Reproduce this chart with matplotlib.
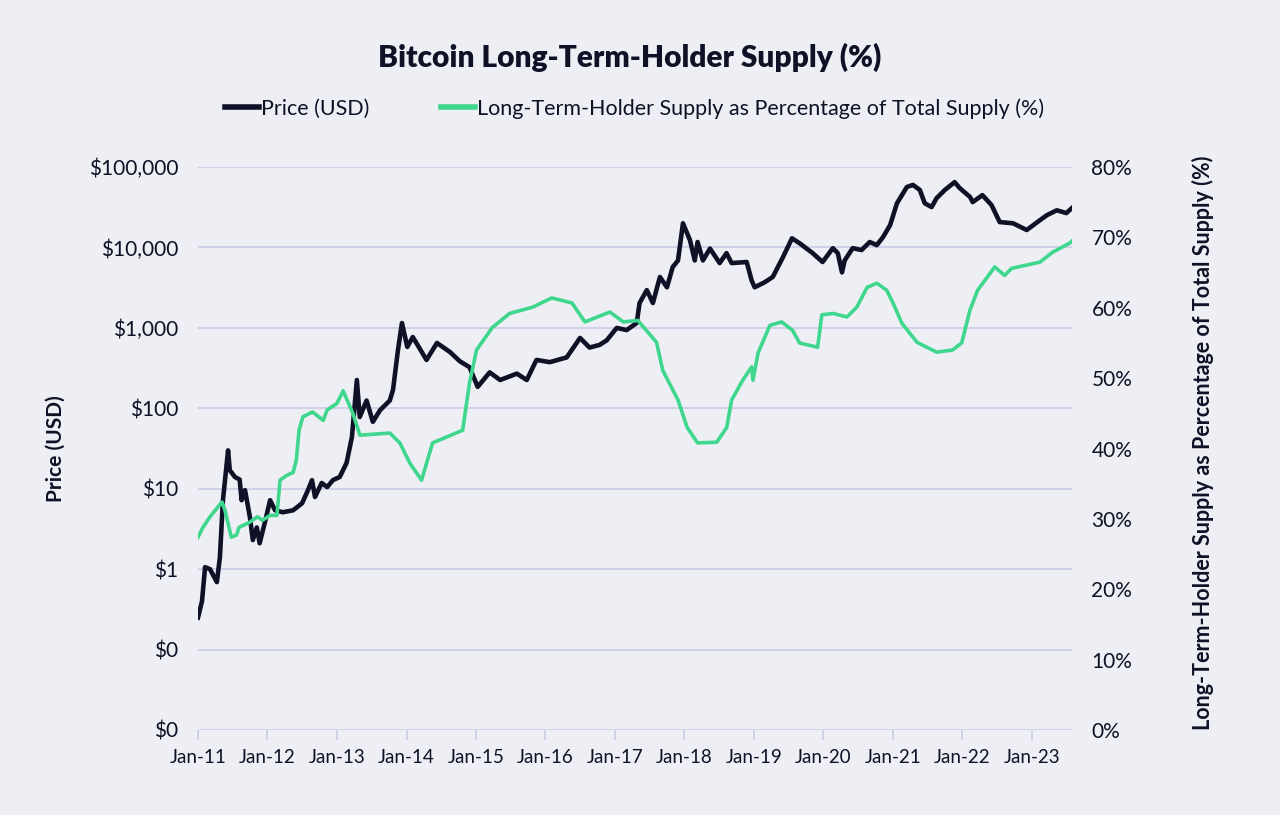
import matplotlib
matplotlib.use("Agg")
import matplotlib.pyplot as plt
import matplotlib.dates as mdates
import matplotlib.ticker as mticker
import pandas as pd

plt.rcParams["font.family"] = ["Lato", "DejaVu Sans"]

# price (USD)
price_dates = [
    "2011-01-01", "2011-01-22", "2011-02-07", "2011-03-05", "2011-04-10", "2011-04-26",
    "2011-05-12", "2011-06-08", "2011-06-17", "2011-07-14", "2011-08-08", "2011-08-18",
    "2011-09-05", "2011-10-01", "2011-10-16", "2011-11-06", "2011-11-21", "2011-12-17",
    "2012-01-15", "2012-02-10", "2012-03-22", "2012-05-15", "2012-07-01", "2012-08-01",
    "2012-08-22", "2012-09-07", "2012-10-12", "2012-11-10", "2012-12-10", "2013-01-15",
    "2013-02-20", "2013-03-20", "2013-04-15", "2013-04-30", "2013-06-05", "2013-07-08",
    "2013-08-15", "2013-10-05", "2013-10-22", "2013-11-17", "2013-12-08", "2014-01-05",
    "2014-02-03", "2014-04-16", "2014-06-10", "2014-08-18", "2014-10-08", "2014-11-28",
    "2015-01-10", "2015-03-14", "2015-05-08", "2015-08-04", "2015-09-25", "2015-11-15",
    "2016-01-24", "2016-04-22", "2016-07-01", "2016-08-20", "2016-10-12", "2016-11-18",
    "2017-01-10", "2017-03-03", "2017-04-25", "2017-05-10", "2017-06-17", "2017-07-19",
    "2017-08-25", "2017-10-01", "2017-10-31", "2017-11-28", "2017-12-24", "2018-01-15",
    "2018-01-30", "2018-02-24", "2018-03-11", "2018-04-08", "2018-05-15", "2018-07-05",
    "2018-08-10", "2018-09-06", "2018-11-24", "2018-12-20", "2019-01-05", "2019-02-27",
    "2019-04-10", "2019-06-03", "2019-07-20", "2019-08-29", "2019-11-06", "2019-12-28",
    "2020-02-20", "2020-03-17", "2020-04-08", "2020-04-22", "2020-06-03", "2020-07-20",
    "2020-09-01", "2020-10-08", "2020-11-10", "2020-12-17", "2021-01-22", "2021-03-15",
    "2021-04-16", "2021-05-22", "2021-06-17", "2021-07-23", "2021-08-18", "2021-10-01",
    "2021-11-21", "2021-12-17", "2022-02-10", "2022-02-24", "2022-04-16", "2022-06-03",
    "2022-07-16", "2022-09-24", "2022-12-05", "2023-02-13", "2023-03-22", "2023-05-12",
    "2023-07-01", "2023-07-31",
]
price_usd = [
    0.25, 0.4, 1.06, 1.0, 0.69, 1.4,
    7.2, 30, 17, 14, 13, 7.2,
    9.6, 4.4, 2.3, 3.3, 2.1, 3.7,
    7.2, 5.4, 5.1, 5.4, 6.6, 9.6,
    12.8, 7.9, 11.8, 10.5, 12.8, 14,
    21, 44, 225, 78, 125, 68,
    95, 125, 170, 530, 1150, 580,
    770, 400, 650, 500, 385, 325,
    185, 280, 225, 270, 225, 400,
    375, 430, 750, 570, 615, 700,
    1000, 940, 1150, 2040, 2950, 2040,
    4300, 3200, 5700, 6900, 20000, 15000,
    12300, 6900, 11700, 6900, 9700, 6400,
    8500, 6400, 6600, 3900, 3200, 3700,
    4300, 7600, 13000, 11300, 8500, 6600,
    9800, 8500, 4900, 6900, 9800, 9300,
    11700, 10700, 13500, 19000, 35500, 56500,
    60000, 52000, 35500, 31800, 41000, 52000,
    65000, 55000, 42500, 36700, 44800, 33700,
    20700, 20000, 16500, 21900, 25300, 29000,
    26800, 31000,
]

# long-term-holder supply share (%)
lth_dates = [
    "2011-01-01", "2011-01-27", "2011-03-05", "2011-05-07", "2011-05-23", "2011-06-25",
    "2011-07-22", "2011-08-05", "2011-09-28", "2011-11-10", "2011-12-05", "2012-01-15",
    "2012-02-20", "2012-03-07", "2012-04-12", "2012-05-15", "2012-06-01", "2012-06-15",
    "2012-07-05", "2012-08-25", "2012-10-20", "2012-11-10", "2012-12-31", "2013-02-02",
    "2013-03-25", "2013-05-01", "2013-10-05", "2013-11-27", "2014-01-19", "2014-03-21",
    "2014-05-18", "2014-10-23", "2014-11-28", "2015-01-04", "2015-03-28", "2015-06-27",
    "2015-10-27", "2016-02-03", "2016-05-19", "2016-07-27", "2016-12-05", "2017-02-13",
    "2017-05-01", "2017-08-07", "2017-09-09", "2017-11-28", "2018-01-15", "2018-03-11",
    "2018-06-20", "2018-08-11", "2018-09-06", "2018-11-03", "2018-12-20", "2018-12-27",
    "2019-01-23", "2019-03-26", "2019-05-27", "2019-07-23", "2019-08-29", "2019-12-02",
    "2019-12-24", "2020-02-20", "2020-05-04", "2020-06-25", "2020-08-18", "2020-10-08",
    "2020-11-29", "2021-01-01", "2021-02-17", "2021-05-07", "2021-08-18", "2021-11-10",
    "2021-12-28", "2022-02-10", "2022-03-22", "2022-06-20", "2022-08-11", "2022-09-16",
    "2023-02-13", "2023-04-20", "2023-07-19", "2023-07-31",
]
lth_pct = [
    27.4, 28.8, 30.3, 32.4, 31.2, 27.4,
    27.7, 28.8, 29.5, 30.3, 29.8, 30.5,
    30.5, 35.5, 36.2, 36.6, 38.4, 42.6,
    44.5, 45.2, 44.0, 45.5, 46.4, 48.2,
    45.0, 41.9, 42.2, 40.8, 37.9, 35.5,
    40.8, 42.6, 49.3, 54.0, 57.2, 59.2,
    60.1, 61.4, 60.7, 58.0, 59.4, 58.0,
    58.2, 55.1, 51.1, 46.9, 43.0, 40.8,
    40.9, 43.0, 46.9, 49.7, 51.6, 49.7,
    53.6, 57.5, 58.0, 56.8, 55.0, 54.4,
    59.0, 59.2, 58.7, 60.1, 62.9, 63.5,
    62.5, 60.7, 57.8, 55.1, 53.7, 54.0,
    55.0, 59.7, 62.5, 65.8, 64.6, 65.6,
    66.5, 67.9, 69.2, 69.5,
]

year_ticks = [f"{y}-01-01" for y in range(2011, 2024)]

BG = "#eeeff4"
GRID = "#cbcbe6"
DARK = "#0f1126"
GREEN = "#3fd68d"

fig = plt.figure(figsize=(12.8, 8.15), dpi=100, facecolor=BG)
ax = fig.add_axes([0.1547, 0.1043, 0.6828, 0.6907], facecolor=BG)
ax2 = ax.twinx()

l1, = ax.plot(pd.to_datetime(price_dates), price_usd, color=DARK, lw=3.3,
              solid_joinstyle="round", label="Price (USD)")
l2, = ax2.plot(pd.to_datetime(lth_dates), lth_pct, color=GREEN, lw=2.6,
               solid_joinstyle="round",
               label="Long-Term-Holder Supply as Percentage of Total Supply (%)")

ax.set_yscale("log")
ax.set_ylim(0.01, 100000)
ax.yaxis.set_major_locator(mticker.LogLocator(base=10, numticks=10))
ax.yaxis.set_minor_locator(mticker.NullLocator())
ax.yaxis.set_major_formatter(mticker.FuncFormatter(lambda v, p: f"${v:,.0f}"))
ax.grid(axis="y", color=GRID, lw=1.2)
ax.set_axisbelow(True)

ax2.set_ylim(0, 80)
ax2.set_yticks(range(0, 81, 10))
ax2.yaxis.set_major_formatter(mticker.FuncFormatter(lambda v, p: f"{v:.0f}%"))

ax.set_xlim(pd.Timestamp("2011-01-01"), pd.Timestamp("2023-07-31"))
ax.set_xticks(pd.to_datetime(year_ticks))
ax.xaxis.set_major_formatter(mdates.DateFormatter("Jan-%y"))

for a in (ax, ax2):
    for s in a.spines.values():
        s.set_visible(False)
ax.tick_params(axis="x", length=7, color=GRID, width=1.2, labelsize=13.5,
               labelcolor=DARK, pad=7)
ax.tick_params(axis="y", length=0, labelsize=15, labelcolor=DARK, pad=14)
ax2.tick_params(axis="y", length=0, labelsize=15, labelcolor=DARK, pad=14)

ax.set_ylabel("Price (USD)", fontsize=15, fontweight="bold", color=DARK)
ax.yaxis.set_label_coords(-0.152, 0.5)
ax2.set_ylabel("Long-Term-Holder Supply as Percentage of Total Supply (%)",
               fontsize=15.5, fontweight="bold", color=DARK)
ax2.yaxis.set_label_coords(1.137, 0.51)

fig.text(0.492, 0.930, "Bitcoin Long-Term-Holder Supply (%)", ha="center", va="center",
         fontsize=21.5, fontweight="heavy", color=DARK)
fig.legend(handles=[l1, l2], loc="center", bbox_to_anchor=(0.4957, 0.867), ncol=2,
           frameon=False, fontsize=15.5, handlelength=1.6, handletextpad=0.1,
           columnspacing=3.3, labelcolor=DARK)
for h in fig.legends[0].legend_handles:
    h.set_linewidth(4)

fig.savefig("out.png", dpi=100, facecolor=BG)
